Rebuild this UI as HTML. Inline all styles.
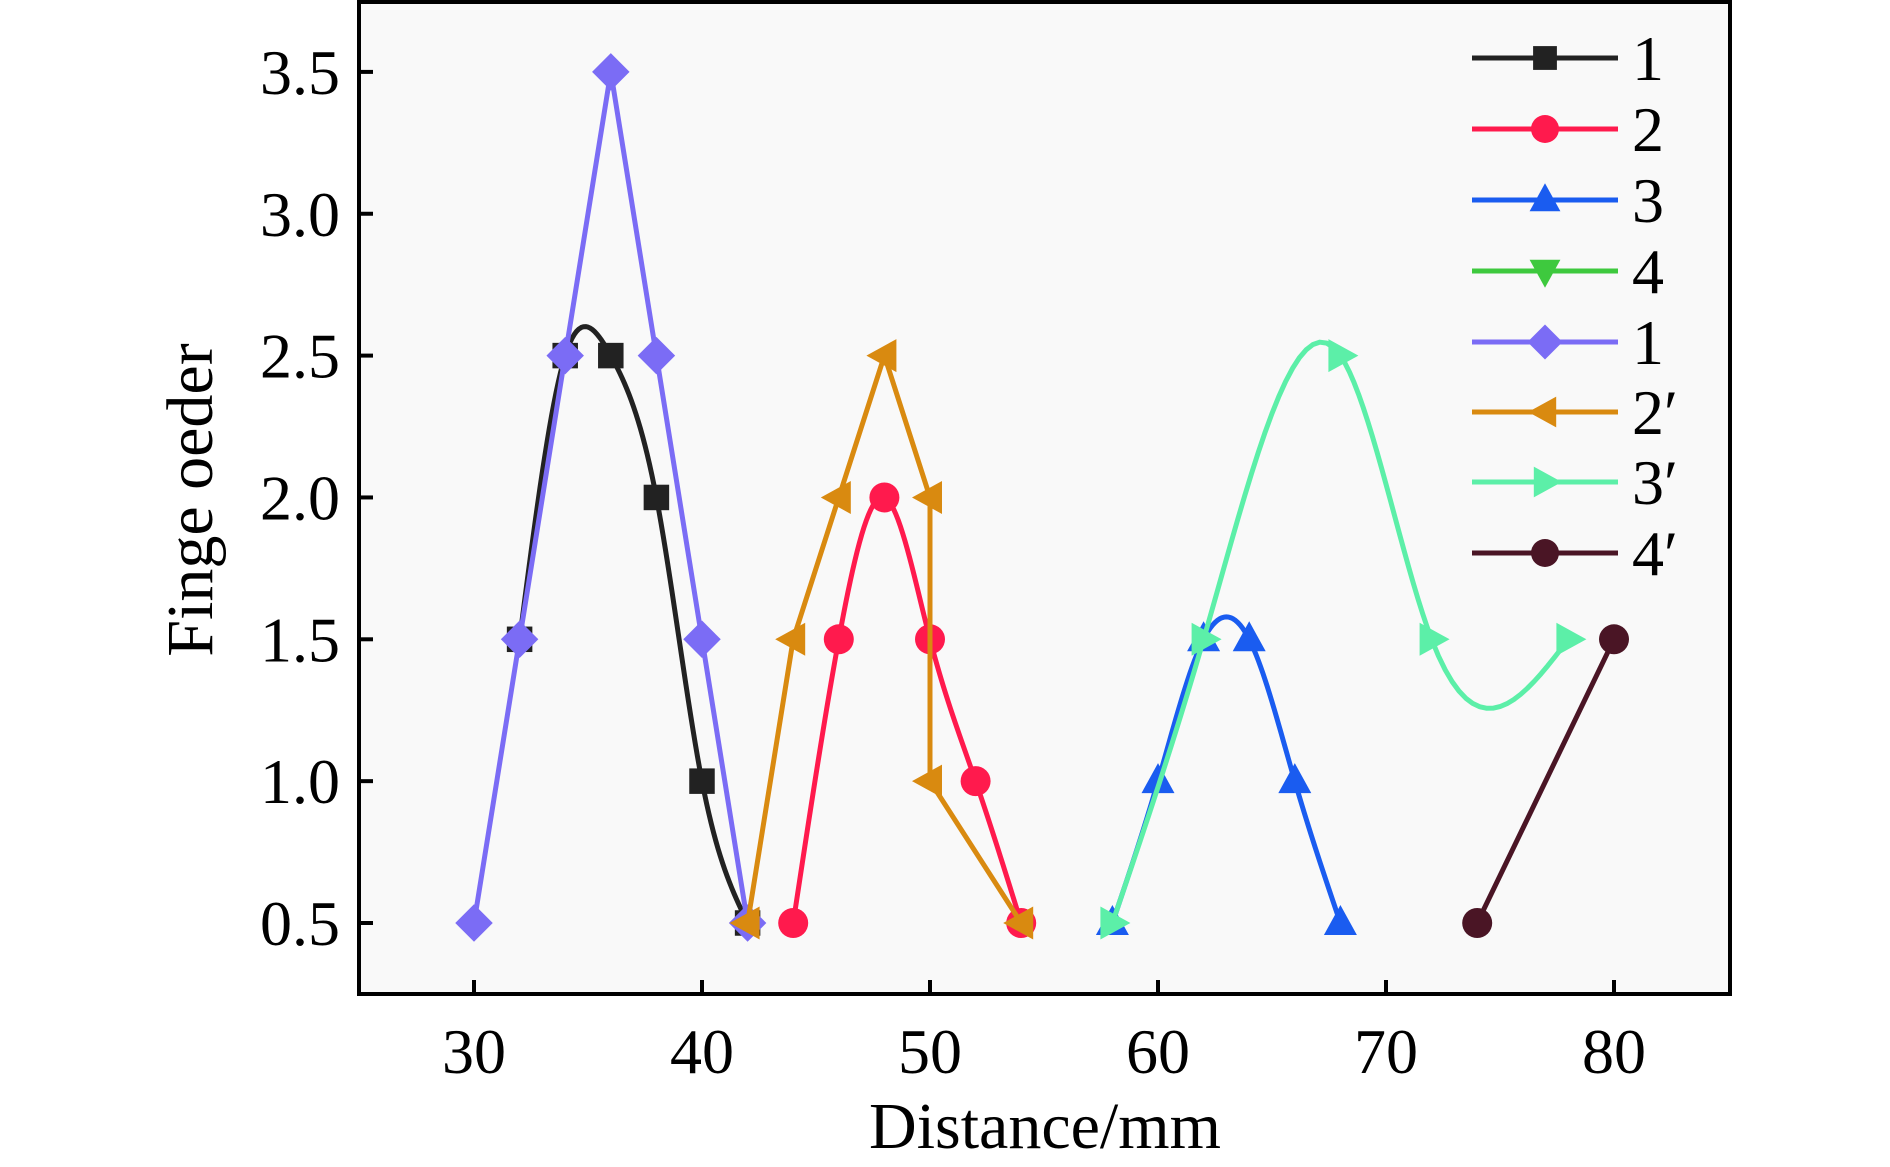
<!DOCTYPE html>
<html><head><meta charset="utf-8"><style>
html,body{margin:0;padding:0;background:#fff}
svg{display:block;font-family:"Liberation Serif",serif}
</style></head><body>
<svg id="chart" width="1890" height="1167" viewBox="0 0 1890 1167">
<rect x="359" y="2" width="1371" height="992" fill="#f9f9f9" stroke="#000" stroke-width="4"/>
<g id="axes"></g><g id="series"></g><g id="legend"></g>
<text x="1045" y="1148" font-size="66" text-anchor="middle">Distance/mm</text>
<text transform="translate(212,500) rotate(-90)" font-size="66" text-anchor="middle">Finge oeder</text>
</svg>
<script>
const xTicks=[30,40,50,60,70,80];
const yTicks=[0.5,1.0,1.5,2.0,2.5,3.0,3.5];
const seriesNames=["1","2","3","4","1","2′","3′","4′"];
const seriesColors=["#222222","#ff1a4d","#1a5cf0","#3ec93e","#7b6cf5","#d98a10","#5cefa8","#4a1525"];
const seriesMarkers=["square","circle","up","down","diamond","left","right","circle"];
const seriesSmooth=[true,true,true,true,false,false,true,false];
const s1x=[32,34,36,38,40,42], s1y=[1.5,2.5,2.5,2,1,0.5];
const s2x=[44,46,48,50,52,54], s2y=[0.5,1.5,2,1.5,1,0.5];
const s3x=[58,60,62,64,66,68], s3y=[0.5,1,1.5,1.5,1,0.5];
const s4x=[], s4y=[];
const s5x=[30,32,34,36,38,40,42], s5y=[0.5,1.5,2.5,3.5,2.5,1.5,0.5];
const s6x=[42,44,46,48,50,50,54], s6y=[0.5,1.5,2,2.5,2,1,0.5];
const s7x=[58,62,68,72,78], s7y=[0.5,1.5,2.5,1.5,1.5];
const s8x=[74,80], s8y=[0.5,1.5];
const allX=[s1x,s2x,s3x,s4x,s5x,s6x,s7x,s8x], allY=[s1y,s2y,s3y,s4y,s5y,s6y,s7y,s8y];
const NS="http://www.w3.org/2000/svg";
const X=v=>474+(v-30)*22.8, Y=v=>923-(v-0.5)*283.7;
function mk(t,a,p){const e=document.createElementNS(NS,t);for(const k in a)e.setAttribute(k,a[k]);p.appendChild(e);return e;}
const ax=document.getElementById('axes');
xTicks.forEach(v=>{
 const t=mk('line',{x1:X(v),x2:X(v),y1:994,y2:980,stroke:'#000','stroke-width':4},ax);
 
 
 const l=mk('text',{x:X(v),y:1073,'font-size':64,'text-anchor':'middle'},ax);l.textContent=v;
 
 
});
yTicks.forEach(v=>{
 const t=mk('line',{x1:359,x2:373,y1:Y(v),y2:Y(v),stroke:'#000','stroke-width':4},ax);
 
 
 const l=mk('text',{x:340,y:Y(v)+22,'font-size':64,'text-anchor':'end'},ax);l.textContent=v.toFixed(1);
 
 
});
function marker(type,cx,cy,c,g,r){
 r=r||15;let e;
 if(type==='square')e=mk('rect',{x:cx-r*0.85,y:cy-r*0.85,width:r*1.7,height:r*1.7,fill:c},g);
 else if(type==='circle')e=mk('circle',{cx:cx,cy:cy,r:r,fill:c},g);
 else{let p;
  if(type==='up')p=[[0,-r*1.2],[r*1.1,r*0.8],[-r*1.1,r*0.8]];
  if(type==='down')p=[[0,r*1.2],[r*1.1,-r*0.8],[-r*1.1,-r*0.8]];
  if(type==='left')p=[[-r*1.2,0],[r*0.8,-r*1.1],[r*0.8,r*1.1]];
  if(type==='right')p=[[r*1.2,0],[-r*0.8,-r*1.1],[-r*0.8,r*1.1]];
  if(type==='diamond')p=[[0,-r*1.25],[r*1.25,0],[0,r*1.25],[-r*1.25,0]];
  e=mk('polygon',{points:p.map(q=>(cx+q[0])+','+(cy+q[1])).join(' '),fill:c},g);}
 return e;
}
function splineD(xs,ys){
 const n=xs.length;const h=[],al=[],l=[1],mu=[0],z=[0],c=new Array(n).fill(0),b=[],d=[];
 for(let i=0;i<n-1;i++)h[i]=xs[i+1]-xs[i];
 for(let i=1;i<n-1;i++)al[i]=3/h[i]*(ys[i+1]-ys[i])-3/h[i-1]*(ys[i]-ys[i-1]);
 for(let i=1;i<n-1;i++){l[i]=2*(xs[i+1]-xs[i-1])-h[i-1]*mu[i-1];mu[i]=h[i]/l[i];z[i]=(al[i]-h[i-1]*z[i-1])/l[i];}
 for(let j=n-2;j>=0;j--){c[j]=(j>0?z[j]:0)-mu[j]*c[j+1];b[j]=(ys[j+1]-ys[j])/h[j]-h[j]*(c[j+1]+2*c[j])/3;d[j]=(c[j+1]-c[j])/(3*h[j]);}
 let s='M'+X(xs[0])+','+Y(ys[0]);
 for(let j=0;j<n-1;j++)for(let k=1;k<=20;k++){const t=h[j]*k/20;const v=ys[j]+b[j]*t+c[j]*t*t+d[j]*t*t*t;s+=' L'+X(xs[j]+t)+','+Y(v);}
 return s;
}
function pathD(xs,ys,smooth){
 if(!xs.length)return '';
 if(smooth)return splineD(xs,ys);
 return xs.map((x,i)=>(i?'L':'M')+X(x)+','+Y(ys[i])).join(' ');
}
const sg=document.getElementById('series');
const order=[0,4,1,5,2,6,7,3];
order.forEach(i=>{
 const g=mk('g',{},sg);
 
 
 if(allX[i].length){
  const p=mk('path',{d:pathD(allX[i],allY[i],seriesSmooth[i]),fill:'none',stroke:seriesColors[i],'stroke-width':5,'stroke-linejoin':'round'},g);
  
  
 }
 allX[i].forEach((x,j)=>{
  const m=marker(seriesMarkers[i],X(x),Y(allY[i][j]),seriesColors[i],g);
  
  
 });
});
const lg=document.getElementById('legend');
const rows=[58,129,200,271,342,412,482,553];
seriesNames.forEach((n,i)=>{
 const g=mk('g',{},lg);
 
 
 mk('line',{x1:1472,x2:1618,y1:rows[i],y2:rows[i],stroke:seriesColors[i],'stroke-width':5},g);
 marker(seriesMarkers[i],1545,rows[i],seriesColors[i],g,14);
 const t=mk('text',{x:1632,y:rows[i]+22,'font-size':64},g);t.textContent=n;
});
</script>
</body></html>
